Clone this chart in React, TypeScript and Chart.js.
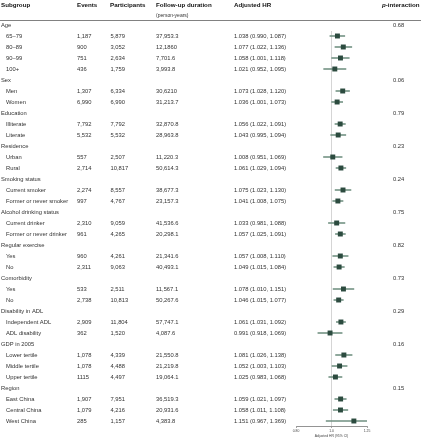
import React, { useEffect, useRef } from "react";
import { Chart, registerables } from "chart.js";

Chart.register(...registerables);

const rowLabels = [
  "Age", "65–79", "80–89", "90–99", "100+",
  "Sex", "Men", "Women",
  "Education", "Illiterate", "Literate",
  "Residence", "Urban", "Rural",
  "Smoking status", "Current smoker", "Former or never smoker",
  "Alcohol drinking status", "Current drinker", "Former or never drinker",
  "Regular exercise", "Yes", "No",
  "Comorbidity", "Yes", "No",
  "Disability in ADL", "Independent ADL", "ADL disability",
  "GDP in 2005", "Lower tertile", "Middle tertile", "Upper tertile",
  "Region", "East China", "Central China", "West China",
];

const events = [
  "", "1,187", "900", "751", "436",
  "", "1,307", "6,990",
  "", "7,792", "5,532",
  "", "557", "2,714",
  "", "2,274", "997",
  "", "2,310", "961",
  "", "960", "2,311",
  "", "533", "2,738",
  "", "2,909", "362",
  "", "1,078", "1,078", "1115",
  "", "1,907", "1,079", "285",
];

const participants = [
  "", "5,879", "3,052", "2,634", "1,759",
  "", "6,334", "6,990",
  "", "7,792", "5,532",
  "", "2,507", "10,817",
  "", "8,557", "4,767",
  "", "9,059", "4,265",
  "", "4,261", "9,063",
  "", "2,511", "10,813",
  "", "11,804", "1,520",
  "", "4,339", "4,488", "4,497",
  "", "7,951", "4,216", "1,157",
];

const followUp = [
  "", "37,953.3", "12,1860", "7,701.6", "3,993.8",
  "", "30,6210", "31,213.7",
  "", "32,870.8", "28,963.8",
  "", "11,220.3", "50,614.3",
  "", "38,677.3", "23,157.3",
  "", "41,536.6", "20,298.1",
  "", "21,341.6", "40,493.1",
  "", "11,567.1", "50,267.6",
  "", "57,747.1", "4,087.6",
  "", "21,550.8", "21,219.8", "19,064.1",
  "", "36,519.3", "20,931.6", "4,383.8",
];

const hr: (number | null)[] = [
  null, 1.038, 1.077, 1.058, 1.021,
  null, 1.073, 1.036,
  null, 1.056, 1.043,
  null, 1.008, 1.061,
  null, 1.075, 1.041,
  null, 1.033, 1.057,
  null, 1.057, 1.049,
  null, 1.078, 1.046,
  null, 1.061, 0.991,
  null, 1.081, 1.052, 1.025,
  null, 1.059, 1.058, 1.151,
];

const lower: (number | null)[] = [
  null, 0.990, 1.022, 1.001, 0.952,
  null, 1.028, 1.001,
  null, 1.022, 0.995,
  null, 0.951, 1.029,
  null, 1.023, 1.008,
  null, 0.981, 1.025,
  null, 1.008, 1.015,
  null, 1.010, 1.015,
  null, 1.031, 0.918,
  null, 1.026, 1.003, 0.983,
  null, 1.021, 1.011, 0.967,
];

const upper: (number | null)[] = [
  null, 1.087, 1.136, 1.118, 1.095,
  null, 1.120, 1.073,
  null, 1.091, 1.094,
  null, 1.069, 1.094,
  null, 1.130, 1.075,
  null, 1.088, 1.091,
  null, 1.110, 1.084,
  null, 1.151, 1.077,
  null, 1.092, 1.069,
  null, 1.138, 1.103, 1.068,
  null, 1.097, 1.108, 1.369,
];

const pInteraction = [
  "0.68", "", "", "", "",
  "0.06", "", "",
  "0.79", "", "",
  "0.23", "", "",
  "0.24", "", "",
  "0.75", "", "",
  "0.82", "", "",
  "0.73", "", "",
  "0.29", "", "",
  "0.16", "", "", "",
  "0.15", "", "", "",
];

const xTicks = [0.8, 1.0, 1.25];
const xTickLabels = ["0.80", "1.0", "1.25"];
const xTitle = "Adjusted HR (95% CI)";

const FONT = '"Liberation Sans", Arial, Helvetica, sans-serif';
const MARKER = "#2c4b3f";
const CI = "#6f8f80";
const HEAD = "#111";
const TEXT = "#333";

const fmt = (v: number) => v.toFixed(3);

const tablePlugin = {
  id: "tableText",
  afterDraw(chart: any) {
    const ctx: CanvasRenderingContext2D = chart.ctx;
    const y = chart.scales.y;
    ctx.save();
    ctx.fillStyle = HEAD;
    ctx.textBaseline = "middle";
    ctx.textAlign = "left";
    // headers
    ctx.font = `bold 6.2px ${FONT}`;
    ctx.fillText("Subgroup", 1, 5.5);
    ctx.fillText("Events", 77, 5.5);
    ctx.fillText("Participants", 110, 5.5);
    ctx.fillText("Follow-up duration", 156, 5.5);
    ctx.fillText("Adjusted HR", 234, 5.5);
    ctx.font = `italic bold 6.2px ${FONT}`;
    ctx.fillText("p", 382, 5.5);
    const pw = ctx.measureText("p").width;
    ctx.font = `bold 6.2px ${FONT}`;
    ctx.fillText("-interaction", 382 + pw, 5.5);
    ctx.fillStyle = TEXT;
    ctx.font = `5px ${FONT}`;
    ctx.fillText("(person-years)", 156, 15.5);
    // header rule
    ctx.strokeStyle = "#4a4a4a";
    ctx.lineWidth = 0.7;
    ctx.beginPath();
    ctx.moveTo(0, 20.5);
    ctx.lineTo(421, 20.5);
    ctx.stroke();
    // rows
    ctx.font = `5.8px ${FONT}`;
    rowLabels.forEach((label, i) => {
      const py = y.getPixelForValue(i);
      const isGroup = hr[i] === null;
      ctx.fillText(label, isGroup ? 1 : 6, py);
      if (events[i]) ctx.fillText(events[i], 77, py);
      if (participants[i]) ctx.fillText(participants[i], 110.5, py);
      if (followUp[i]) ctx.fillText(followUp[i], 156, py);
      const h = hr[i], lo = lower[i], hi = upper[i];
      if (h !== null && lo !== null && hi !== null) {
        ctx.fillText(`${fmt(h)} (${fmt(lo)}, ${fmt(hi)})`, 234, py);
      }
      if (pInteraction[i]) ctx.fillText(pInteraction[i], 393, py);
    });
    ctx.restore();
  },
};

export default function App() {
  const ref = useRef<HTMLCanvasElement | null>(null);
  useEffect(() => {
    document.body.style.margin = "0";
    const canvas = ref.current;
    if (!canvas) return;
    const points = hr
      .map((v, i) => (v === null ? null : { x: v, y: i }))
      .filter((p) => p !== null);
    const ciBars = hr
      .map((v, i) =>
        v === null ? null : { x: [lower[i] as number, upper[i] as number], y: i }
      )
      .filter((p) => p !== null);
    const chart = new Chart(canvas, {
      type: "scatter",
      data: {
        datasets: [
          {
            type: "scatter",
            data: points as any,
            pointStyle: "rect",
            pointRadius: 3.5,
            backgroundColor: MARKER,
            borderWidth: 0,
            order: 0,
          } as any,
          {
            type: "bar",
            indexAxis: "y",
            data: ciBars as any,
            backgroundColor: CI,
            barThickness: 0.9,
            borderWidth: 0,
            order: 1,
          } as any,
          {
            type: "line",
            data: [
              { x: 1, y: 0.55 },
              { x: 1, y: 36.4545 },
            ],
            borderColor: "#d4d4d4",
            borderWidth: 0.8,
            pointRadius: 0,
            order: 2,
          } as any,
        ],
      },
      options: {
        responsive: false,
        animation: false,
        devicePixelRatio: 1,
        layout: { padding: { left: 296, right: 54, top: 20, bottom: 0 } },
        plugins: { legend: { display: false }, tooltip: { enabled: false } },
        scales: {
          x: {
            type: "logarithmic",
            min: 0.8,
            max: 1.25,
            offset: false,
            afterBuildTicks: (scale: any) => {
              scale.ticks = xTicks.map((v) => ({ value: v }));
            },
            afterFit: (scale: any) => {
              scale.height = 12;
            },
            grid: {
              display: true,
              offset: false,
              drawOnChartArea: false,
              drawTicks: true,
              tickLength: 2,
              color: "#666",
              lineWidth: 0.6,
            },
            border: { display: true, color: "#666", width: 0.7 },
            ticks: {
              padding: 1,
              font: { size: 3.4, family: FONT },
              color: "#444",
              maxRotation: 0,
              autoSkip: false,
              callback: (_v: any, i: number) => xTickLabels[i],
            },
            title: {
              display: true,
              text: xTitle,
              font: { size: 3.4, family: FONT },
              color: "#444",
              padding: 0,
            },
          },
          y: {
            type: "linear",
            min: -0.4545,
            max: 36.4545,
            reverse: true,
            offset: false,
            grid: { offset: false },
            display: false,
          },
        },
      },
      plugins: [tablePlugin],
    } as any);
    return () => chart.destroy();
  }, []);
  return (
    <div style={{ position: "absolute", left: 0, top: 0, width: 421, height: 438 }}>
      <canvas ref={ref} width={421} height={438} style={{ width: 421, height: 438 }} />
    </div>
  );
}
